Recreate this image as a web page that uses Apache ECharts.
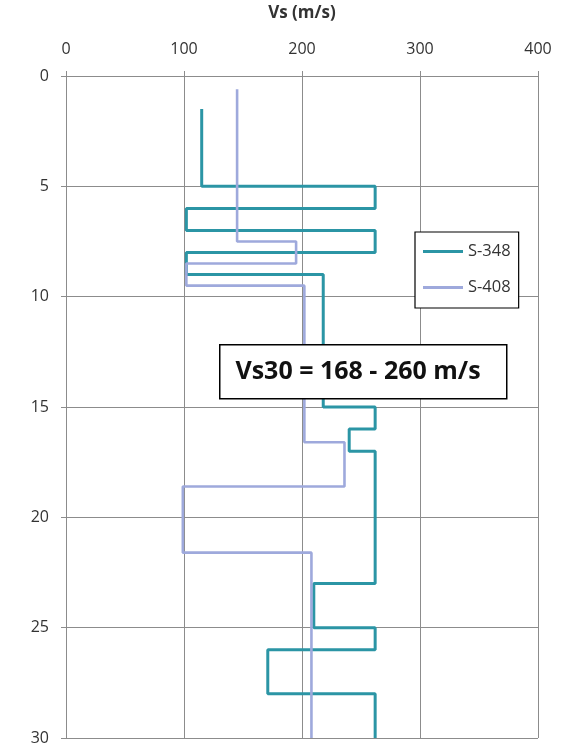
<!DOCTYPE html>
<html>
<head>
<meta charset="utf-8">
<script src="https://cdn.jsdelivr.net/npm/echarts@6/dist/echarts.min.js"></script>
<style>html,body{margin:0;padding:0;background:#fff;}#c{width:573px;height:747px;}</style>
</head>
<body>
<div id="c"></div>
<script>
// Layer boundaries (depth, m) and shear-wave velocities (m/s) per layer
const s348Depths = [1.5, 5, 6, 7, 8, 9, 15, 16, 17, 23, 25, 26, 28, 30];
const s348Vs     = [115, 262, 102, 262, 102, 218, 262, 240, 262, 210, 262, 171, 262];
const s408Depths = [0.6, 7.5, 8.5, 9.5, 16.6, 18.6, 21.6, 30];
const s408Vs     = [145, 195, 102, 202, 236, 99, 208];
const xTicks = [0, 100, 200, 300, 400];
const yTicks = [0, 5, 10, 15, 20, 25, 30];
const seriesNames = ['S-348', 'S-408'];
const annotationText = 'Vs30 = 168 - 260 m/s';
const xTitle = 'Vs (m/s)';

function stepProfile(depths, vs) {
  const pts = [];
  for (let i = 0; i < vs.length; i++) {
    pts.push([vs[i], depths[i]]);
    pts.push([vs[i], depths[i + 1]]);
  }
  return pts;
}

const chart = echarts.init(document.getElementById('c'), null, {renderer: 'canvas'});
const font = 'Open Sans';
const gridCol = '#8c8c8c';
chart.setOption({
  animation: false,
  backgroundColor: '#fff',
  grid: {left: 66, right: 35, top: 71, bottom: 9},
  xAxis: {
    type: 'value', position: 'top',
    min: xTicks[0], max: xTicks[xTicks.length - 1], interval: 100,
    name: xTitle, nameLocation: 'middle', nameGap: 54,
    nameTextStyle: {fontFamily: font, fontWeight: 'bold', fontSize: 17, color: '#333'},
    axisLine: {show: true, lineStyle: {color: gridCol, width: 1}},
    axisTick: {show: true, length: 5, lineStyle: {color: gridCol}},
    axisLabel: {margin: 19, fontFamily: font, fontSize: 16, color: '#333'},
    splitLine: {show: true, lineStyle: {color: gridCol, width: 1}}
  },
  yAxis: {
    type: 'value', inverse: true,
    min: yTicks[0], max: yTicks[yTicks.length - 1], interval: 5,
    axisLine: {show: true, lineStyle: {color: gridCol, width: 1}},
    axisTick: {show: true, length: 5, lineStyle: {color: gridCol}},
    axisLabel: {margin: 17, fontFamily: font, fontSize: 16, color: '#333'},
    splitLine: {show: true, lineStyle: {color: gridCol, width: 1}}
  },
  legend: {
    orient: 'vertical', left: 415, top: 232,
    data: seriesNames,
    backgroundColor: '#fff', borderColor: '#000', borderWidth: 1.2,
    padding: [11, 8, 12, 8],
    itemWidth: 40, itemHeight: 3, itemGap: 19,
    icon: 'rect',
    textStyle: {fontFamily: font, fontSize: 16.5, color: '#333'}
  },
  series: [
    {
      name: seriesNames[0], type: 'line', showSymbol: false, symbol: 'none',
      data: stepProfile(s348Depths, s348Vs),
      itemStyle: {color: '#2b95a5'},
      lineStyle: {color: '#2b95a5', width: 3}, z: 3
    },
    {
      name: seriesNames[1], type: 'line', showSymbol: false, symbol: 'none',
      data: stepProfile(s408Depths, s408Vs),
      itemStyle: {color: '#9ea9dc'},
      lineStyle: {color: '#9ea9dc', width: 2.6}, z: 4
    }
  ],
  graphic: [
    {
      type: 'rect', left: 219, top: 344, z: 100,
      shape: {width: 287, height: 54},
      style: {fill: '#fff', stroke: '#000', lineWidth: 1.5}
    },
    {
      type: 'text', z: 101, x: 358, y: 372,
      style: {text: annotationText, fontFamily: font, fontWeight: 'bold', fontSize: 25, fill: '#111',
              textAlign: 'center', textVerticalAlign: 'middle'}
    }
  ]
});
</script>
</body>
</html>
